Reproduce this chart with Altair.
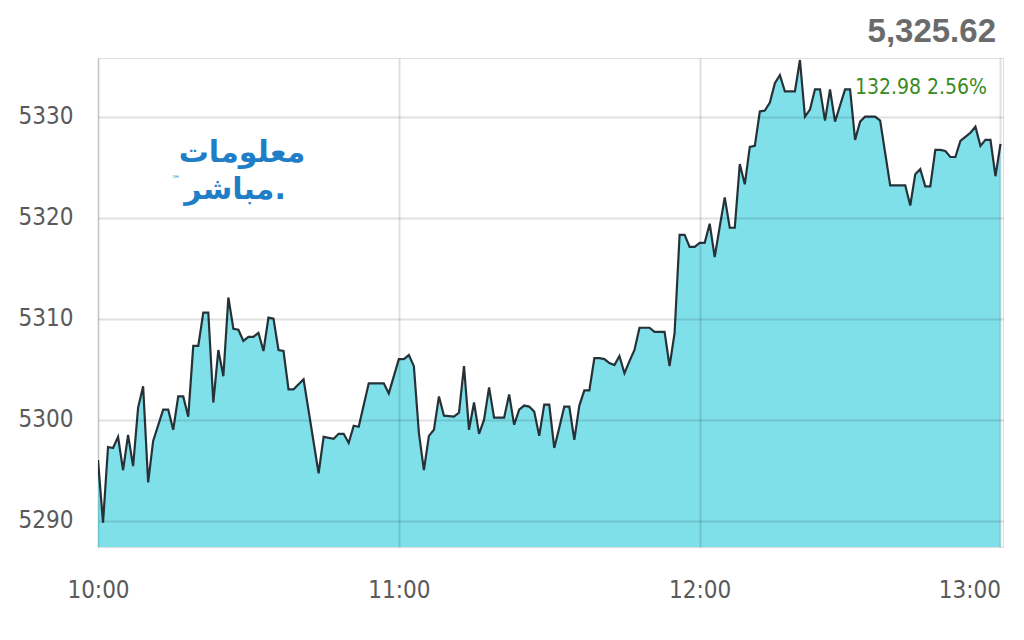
import altair as alt
import pandas as pd

times = ["10:00","10:01","10:02","10:03","10:04","10:05","10:06","10:07","10:08","10:09",
         "10:10","10:11","10:13","10:14","10:15","10:16","10:17","10:18","10:19","10:20",
         "10:21","10:22","10:23","10:24","10:25","10:26","10:27","10:28","10:29","10:30",
         "10:31","10:32","10:33","10:34","10:35","10:36","10:37","10:38","10:39","10:41",
         "10:44","10:45","10:47","10:48","10:49","10:50","10:51","10:52","10:54","10:56",
         "10:57","10:58","11:00","11:01","11:02","11:03","11:04","11:05","11:06","11:07",
         "11:08","11:09","11:11","11:12","11:13","11:14","11:15","11:16","11:17","11:18",
         "11:19","11:21","11:22","11:23","11:24","11:25","11:26","11:27","11:28","11:29",
         "11:30","11:31","11:32","11:33","11:34","11:35","11:36","11:37","11:38","11:39",
         "11:40","11:41","11:42","11:43","11:44","11:45","11:46","11:47","11:48","11:49",
         "11:50","11:51","11:53","11:54","11:55","11:56","11:57","11:58","11:59","12:00",
         "12:01","12:02","12:03","12:04","12:05","12:06","12:07","12:08","12:09","12:10",
         "12:11","12:12","12:13","12:14","12:15","12:16","12:17","12:18","12:19","12:20",
         "12:21","12:22","12:23","12:24","12:25","12:26","12:27","12:28","12:29","12:30",
         "12:31","12:32","12:33","12:34","12:35","12:36","12:37","12:38","12:39","12:40",
         "12:41","12:42","12:43","12:44","12:45","12:46","12:47","12:48","12:49","12:50",
         "12:51","12:52","12:53","12:54","12:55","12:56","12:57","12:58","12:59","13:00"]

values = [5296.0,5289.8,5297.3,5297.2,5298.3,5295.0,5298.5,5295.4,5301.2,5303.3,
          5293.8,5297.9,5301.0,5301.0,5299.0,5302.3,5302.3,5300.3,5307.3,5307.3,
          5310.6,5310.6,5301.7,5306.9,5304.3,5312.1,5309.0,5308.9,5307.8,5308.2,
          5308.2,5308.6,5306.8,5310.1,5310.0,5306.9,5306.8,5303.0,5303.0,5304.0,
          5294.7,5298.3,5298.1,5298.6,5298.6,5297.7,5299.4,5299.3,5303.6,5303.6,
          5303.6,5302.6,5306.0,5306.0,5306.4,5305.3,5298.7,5295.0,5298.4,5299.0,
          5302.3,5300.4,5300.3,5300.7,5305.3,5299.0,5301.7,5298.6,5300.0,5303.2,
          5300.2,5300.2,5302.5,5299.5,5301.0,5301.4,5301.3,5300.8,5298.4,5301.5,
          5301.5,5297.2,5299.2,5301.3,5301.3,5298.0,5301.4,5302.9,5302.9,5306.1,
          5306.1,5306.0,5305.6,5305.4,5306.3,5304.6,5305.8,5306.9,5309.1,5309.1,
          5309.1,5308.7,5308.7,5305.3,5308.6,5318.3,5318.3,5317.1,5317.1,5317.5,
          5317.5,5319.4,5316.1,5319.1,5322.0,5319.0,5319.0,5325.3,5323.3,5327.0,
          5327.1,5330.5,5330.6,5331.4,5333.3,5334.1,5332.5,5332.5,5332.5,5335.6,
          5330.0,5330.7,5332.7,5332.7,5329.6,5332.7,5329.5,5331.1,5332.7,5332.7,
          5327.7,5329.5,5330.0,5330.0,5330.0,5329.6,5326.4,5323.2,5323.2,5323.2,
          5323.2,5321.2,5324.3,5324.8,5323.1,5323.1,5326.7,5326.7,5326.6,5326.0,
          5326.0,5327.6,5328.0,5328.4,5329.0,5327.1,5327.7,5327.7,5324.1,5327.3]

x_ticks = ["10:00", "11:00", "12:00", "13:00"]
y_ticks = [5290, 5300, 5310, 5320, 5330]

last_price = "5,325.62"
change_text = "132.98  2.56%"
logo_line1 = "معلومات"
logo_line2 = "مباشر."
logo_tm = "™"

DAY = "2024-01-01 "
df = pd.DataFrame({"time": pd.to_datetime([DAY + t for t in times]), "value": values})


def dt(hm, seconds=0):
    h, m = hm.split(":")
    return alt.DateTime(year=2024, month=1, date=1, hours=int(h), minutes=int(m), seconds=seconds)


LABEL_FONT = "DejaVu Sans Condensed, sans-serif"
LAST_HOUR = int(x_ticks[-1].split(":")[0])

x_enc = alt.X("time:T",
              scale=alt.Scale(domain=[dt("10:00"), dt("13:00", 30)]),
              axis=alt.Axis(values=[dt(t) for t in x_ticks], format="%H:%M", title=None,
                            domain=False, ticks=False, tickSize=0, labelPadding=31,
                            labelFontSize=24, labelFont=LABEL_FONT, labelColor="#5a5a5a",
                            labelAlign={"condition": {"test": f"hours(datum.value) === {LAST_HOUR}",
                                                      "value": "right"},
                                        "value": "center"},
                            gridColor="#000000", gridOpacity=0.12, gridWidth=2,
                            zindex=1, labelFlush=False))
y_enc = alt.Y("value:Q",
              scale=alt.Scale(domain=[5287.4, 5335.8], zero=False, nice=False),
              axis=alt.Axis(values=y_ticks, title=None, domain=False, ticks=False, tickSize=0,
                            labelPadding=25, labelFontSize=24, labelFont=LABEL_FONT,
                            labelColor="#5a5a5a", gridColor="#000000", gridOpacity=0.12,
                            gridWidth=2, zindex=1, format="d"))

base = alt.Chart(df)
area = base.mark_area(color="#80e0ea", opacity=1, clip=True).encode(x=x_enc, y=y_enc)
line = base.mark_line(color="#263238", strokeWidth=2.2, clip=True).encode(x="time:T", y="value:Q")

price = alt.Chart(pd.DataFrame({"t": [last_price]})).mark_text(
    align="right", baseline="middle", font="Liberation Sans, Arial, sans-serif",
    fontSize=33, fontWeight="bold", color="#6b6b6b"
).encode(x=alt.value(898), y=alt.value(-26), text="t:N")

change = alt.Chart(pd.DataFrame({"t": [change_text]})).mark_text(
    align="right", baseline="middle", font=LABEL_FONT, fontSize=21, color="#3a8a23"
).encode(x=alt.value(889), y=alt.value(30), text="t:N")

logo1 = alt.Chart(pd.DataFrame({"t": [logo_line1]})).mark_text(
    align="center", baseline="middle", font="DejaVu Sans", fontSize=30, fontWeight="bold",
    color="#1f7ec6"
).encode(x=alt.value(144), y=alt.value(95), text="t:N")

logo2 = alt.Chart(pd.DataFrame({"t": [logo_line2]})).mark_text(
    align="center", baseline="middle", font="DejaVu Sans", fontSize=30, fontWeight="bold",
    color="#1f7ec6"
).encode(x=alt.value(137), y=alt.value(132), text="t:N")

tm = alt.Chart(pd.DataFrame({"t": [logo_tm]})).mark_text(
    align="center", baseline="middle", font="DejaVu Sans", fontSize=9, color="#1f7ec6"
).encode(x=alt.value(78), y=alt.value(121), text="t:N")

chart = alt.layer(area, line, price, change, logo1, logo2, tm).properties(
    width=905, height=489,
    autosize=alt.AutoSizeParams(type="none"),
    padding={"left": 90, "top": 50, "right": 12, "bottom": 75},
).configure_view(strokeWidth=0).configure(background="white")

chart.save("out.html", embed_options={"renderer": "svg", "actions": False})
